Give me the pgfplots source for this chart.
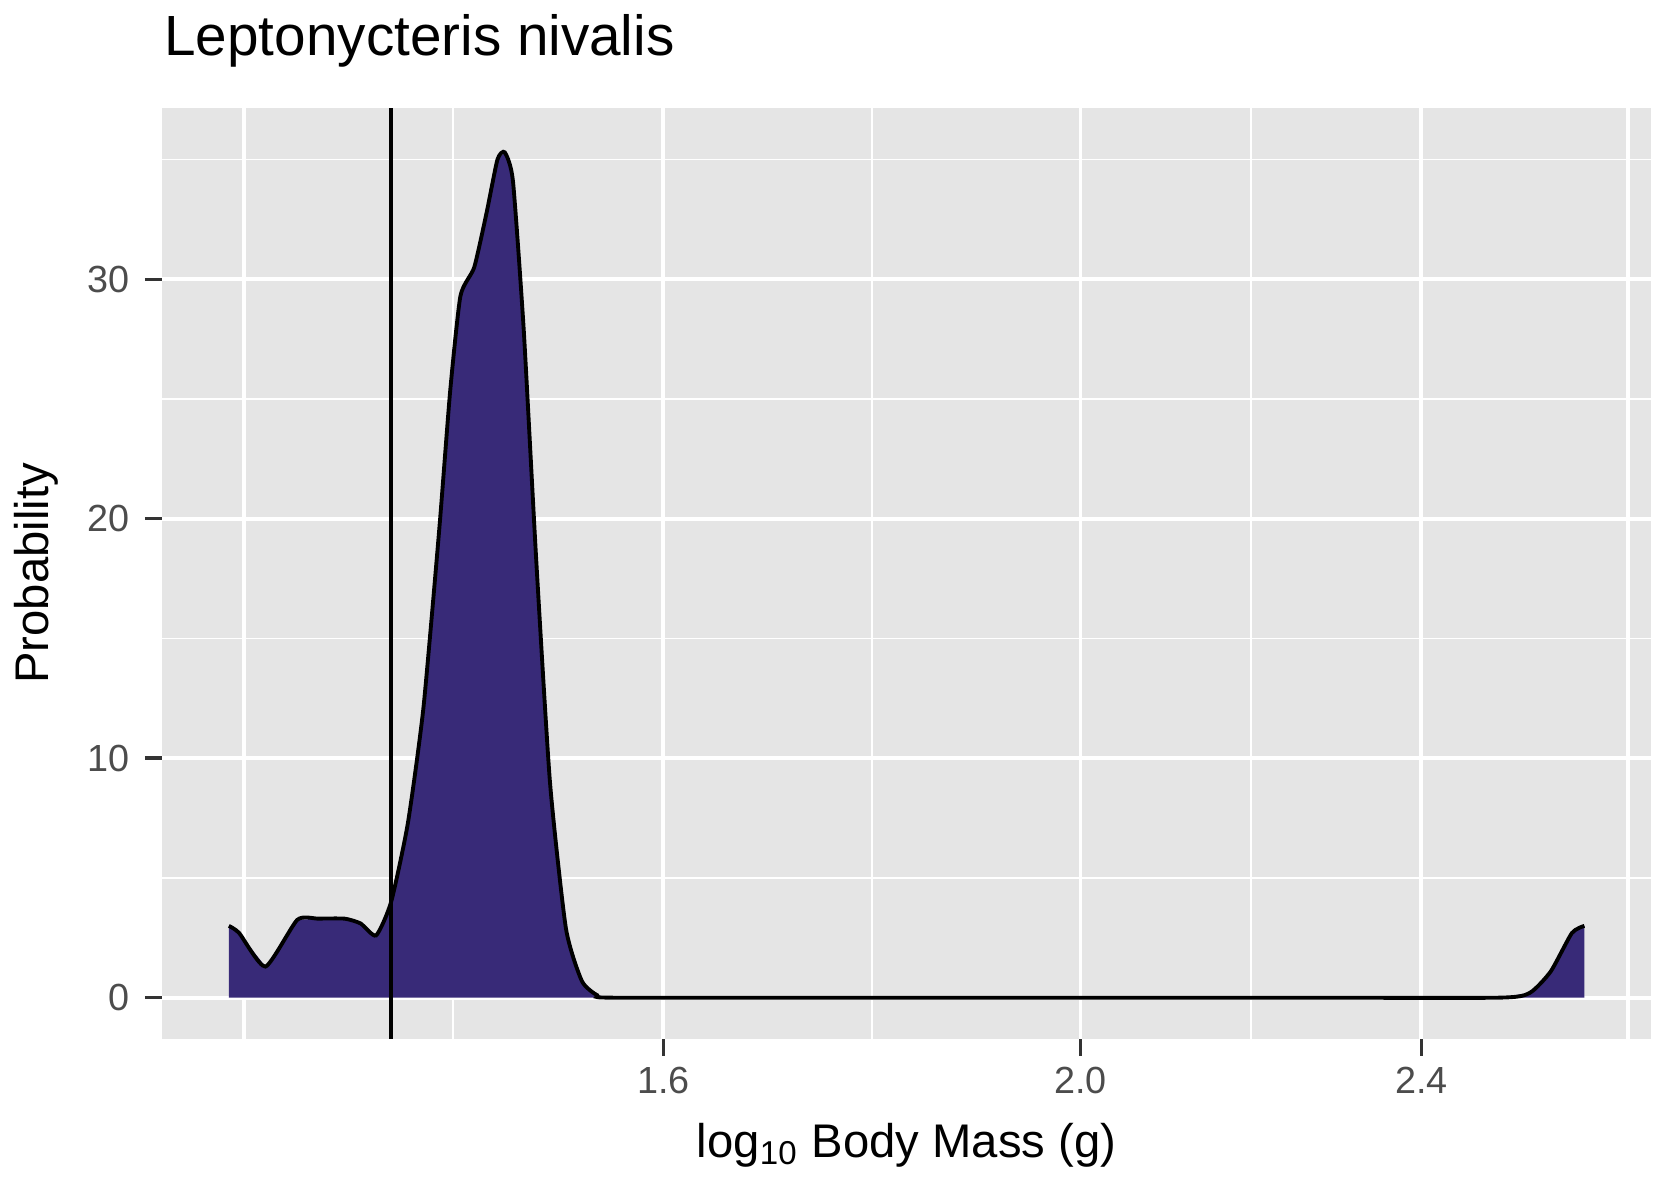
\documentclass[border=0pt]{standalone}
\usepackage{pgfplots}
\pgfplotsset{compat=1.18}
\usepackage{fontspec}
\setmainfont{Liberation Sans}
\definecolor{panel}{HTML}{E5E5E5}
\definecolor{fillc}{HTML}{382A78}
\begin{document}
\begin{tikzpicture}
\begin{axis}[
  scale only axis, width=4.8in, height=3.0in,
  xmin=0.0877, xmax=0.4336, ymin=-1.71, ymax=37.15,
  axis background/.style={fill=panel}, axis line style={draw=none},
  xtick={0.20412,0.30103,0.38021}, xticklabels={1.6,2.0,2.4},
  ytick={0,10,20,30},
  minor xtick={0.1067,0.1552,0.2526,0.3407,0.4283},
  minor ytick={5,15,25,35},
  grid=both,
  major grid style={white,line width=0.9pt},
  minor grid style={white,line width=0.45pt},
  tick style={color=black!80,line width=0.8pt}, major tick length=4pt, minor tick length=0pt,
  tick align=outside, xtick pos=bottom, ytick pos=left,
  ticklabel style={font=\fontsize{8.8}{10}\selectfont, text=black!70},
  xticklabel style={yshift=1pt},
  /pgf/number format/assume math mode=true,
  xlabel={log\textsubscript{10} Body Mass (g)}, ylabel={Probability},
  label style={font=\fontsize{11}{13}\selectfont},
  title={Leptonycteris nivalis}, title style={font=\fontsize{13.2}{15}\selectfont, anchor=south west, at={(0,1)}, xshift=-3pt},
  clip=false,
]
\draw[white,line width=0.9pt] (axis cs:0.1067,-1.71) -- (axis cs:0.1067,37.15);
\draw[white,line width=0.9pt] (axis cs:0.4283,-1.71) -- (axis cs:0.4283,37.15);
\addplot[fill=fillc, draw=none] coordinates {
(0.1032,0)(0.1032,3.0)(0.1056,2.7)(0.1117,1.3)(0.1191,3.25)(0.1240,3.3)(0.1301,3.3)(0.1338,3.1)(0.1374,2.6)
(0.1409,4.0)(0.1448,7.3)(0.1484,12.1)(0.1521,19.6)(0.1546,25.3)(0.1570,29.3)(0.1602,30.5)(0.1631,32.8)
(0.1656,35)(0.1673,35.3)(0.1692,34.1)(0.1717,27.9)(0.1746,18.3)(0.1778,9.0)(0.1815,2.9)(0.1852,0.7)
(0.1888,0.1)(0.1925,0)(0.3981,0)(0.4054,0.2)(0.4103,1.1)(0.4152,2.7)(0.4181,3.0)(0.4181,0)} \closedcycle;
\addplot[draw=black, line width=0.9pt, smooth, tension=0.35] coordinates {
(0.1032,3.0)(0.1056,2.7)(0.1117,1.3)(0.1191,3.25)(0.1240,3.3)(0.1301,3.3)(0.1338,3.1)(0.1374,2.6)
(0.1409,4.0)(0.1448,7.3)(0.1484,12.1)(0.1521,19.6)(0.1546,25.3)(0.1570,29.3)(0.1602,30.5)(0.1631,32.8)
(0.1656,35)(0.1673,35.3)(0.1692,34.1)(0.1717,27.9)(0.1746,18.3)(0.1778,9.0)(0.1815,2.9)(0.1852,0.7)
(0.1888,0.1)(0.1925,0)(0.2500,0)(0.3500,0)(0.3981,0)(0.4054,0.2)(0.4103,1.1)(0.4152,2.7)(0.4181,3.0)};
\addplot[black,line width=0.9pt] coordinates {(0.1409,-1.71)(0.1409,37.15)};
\end{axis}
\end{tikzpicture}
\end{document}
